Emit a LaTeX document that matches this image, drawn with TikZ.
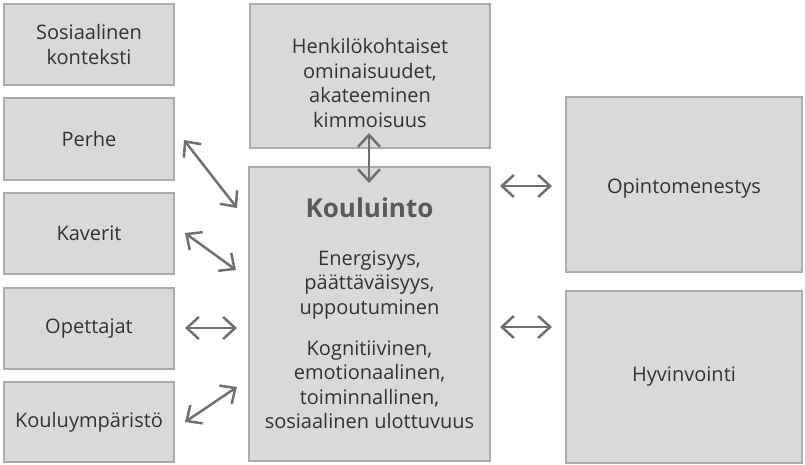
\documentclass[tikz,border=0pt]{standalone}
\usepackage{fontspec}
\setmainfont{Open Sans}
\usetikzlibrary{arrows.meta, positioning}

\definecolor{boxfill}{HTML}{D9D9D9}
\definecolor{boxline}{HTML}{ABABAB}
\definecolor{arrowgray}{HTML}{707070}
\definecolor{textgray}{HTML}{333333}
\definecolor{titlegray}{HTML}{5A5A5A}

\begin{document}
\begin{tikzpicture}[
    x=1pt, y=-1pt,
    box/.style={rectangle, draw=boxline, fill=boxfill, line width=1.2pt,
        align=center, text=textgray, inner sep=2pt,
        font=\fontsize{20}{24.5}\selectfont},
    txt/.style={align=center, text=textgray, inner sep=0pt,
        font=\fontsize{20}{24.5}\selectfont},
    arr/.style={{Straight Barb[length=12pt,width=22pt]}-{Straight Barb[length=12pt,width=22pt]},
        line width=2.5pt, draw=arrowgray}
]
    \useasboundingbox (0,0) rectangle (805,465);

    % left column
    \node[box, minimum width=170pt, minimum height=81pt] (konteksti) at (89,44.5) {Sosiaalinen\\konteksti};
    \node[box, minimum width=170pt, minimum height=82pt] (perhe) at (89,139) {Perhe};
    \node[box, minimum width=170pt, minimum height=81pt] (kaverit) at (89,233.5) {Kaverit};
    \node[box, minimum width=170pt, minimum height=81pt] (opettajat) at (89,328.5) {Opettajat};
    \node[box, minimum width=170pt, minimum height=80pt] (ymparisto) at (89,422) {Kouluympäristö};

    % middle column
    \node[box, minimum width=240pt, minimum height=144pt] (henkilo) at (370,76) {};
    \node[txt] (ominaisuudet) at (370,83) {Henkilökohtaiset\\ominaisuudet,\\akateeminen\\kimmoisuus};
    \node[box, minimum width=241pt, minimum height=294pt] (kouluinto) at (369.5,314) {};
    \node[txt, anchor=base, text=titlegray, font=\fontsize{26}{30}\selectfont\bfseries] (otsikko) at (369.5,217) {Kouluinto};
    \node[txt] (sitoutuminen) at (369.5,285) {Energisyys,\\päättäväisyys,\\uppoutuminen};
    \node[txt] (ulottuvuudet) at (369.5,385) {Kognitiivinen,\\emotionaalinen,\\toiminnallinen,\\sosiaalinen ulottuvuus};

    % right column
    \node[box, minimum width=236pt, minimum height=175pt] (menestys) at (684,184.5) {};
    \node[txt] (menestysteksti) at (684,189) {Opintomenestys};
    \node[box, minimum width=236pt, minimum height=172pt] (hyvinvointi) at (684,377) {Hyvinvointi};

    % arrow ends
    \coordinate (perheA) at (184,140);
    \coordinate (perheB) at (237,208);
    \coordinate (kaveritA) at (185,233);
    \coordinate (kaveritB) at (236,270);
    \coordinate (opettajatA) at (185,328);
    \coordinate (opettajatB) at (237,328);
    \coordinate (ymparistoA) at (185,422);
    \coordinate (ymparistoB) at (237,387);
    \coordinate (henkiloA) at (369,133);
    \coordinate (henkiloB) at (369,183);
    \coordinate (menestysA) at (500,186);
    \coordinate (menestysB) at (552,186);
    \coordinate (hyvinA) at (500,327);
    \coordinate (hyvinB) at (552,327);

    \draw[arr] (perheA) -- (perheB);
    \draw[arr] (kaveritA) -- (kaveritB);
    \draw[arr] (opettajatA) -- (opettajatB);
    \draw[arr] (ymparistoA) -- (ymparistoB);
    \draw[arr] (henkiloA) -- (henkiloB);
    \draw[arr] (menestysA) -- (menestysB);
    \draw[arr] (hyvinA) -- (hyvinB);
\end{tikzpicture}
\end{document}
